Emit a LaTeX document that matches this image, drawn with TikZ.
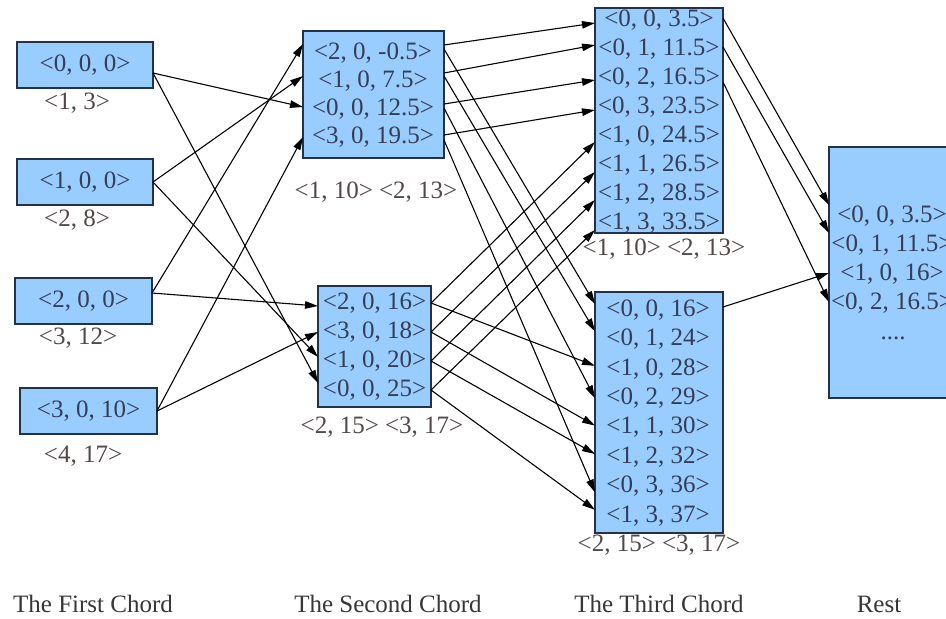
\documentclass[tikz,border=0pt]{standalone}
\usepackage{fontspec}
\setmainfont{Liberation Serif}
\usetikzlibrary{arrows.meta,calc}
\definecolor{boxfill}{RGB}{153,204,255}
\definecolor{boxline}{RGB}{35,50,72}
\definecolor{rowtext}{RGB}{52,62,84}
\definecolor{tagtext}{RGB}{82,72,72}
\definecolor{captext}{RGB}{55,55,55}
\tikzset{
  chordbox/.style={rectangle, draw=boxline, fill=boxfill, line width=1.2pt,
                   inner sep=0pt, outer sep=0pt},
  row/.style={text=rowtext, font=\fontsize{25}{28}\selectfont, inner sep=0pt},
  tag/.style={text=tagtext, font=\fontsize{25}{28}\selectfont, inner sep=0pt},
  caption/.style={text=captext, font=\fontsize{25}{28}\selectfont, inner sep=0pt},
  link/.style={draw=black, line width=1.1pt, -{Triangle[length=13pt,width=7.5pt]}},
}
\begin{document}
\begin{tikzpicture}[x=1pt,y=-1pt]
\useasboundingbox (0,0) rectangle (946,619);
\fill[white] (0,0) rectangle (946,619);
\clip (0,0) rectangle (946,619);

% ---- first chord: single-entry boxes ----
\node[chordbox, row, minimum width=136pt, minimum height=46pt] (A0) at (85,65)    {<0, 0, 0>};
\node[chordbox, row, minimum width=136pt, minimum height=46pt] (A1) at (85,182)   {<1, 0, 0>};
\node[chordbox, row, minimum width=137pt, minimum height=46pt] (A2) at (83.5,301) {<2, 0, 0>};
\node[chordbox, row, minimum width=137pt, minimum height=46pt] (A3) at (88.5,411) {<3, 0, 10>};
\node[tag] (tA0) at (77,103) {<1, 3>};
\node[tag] (tA1) at (77,220) {<2, 8>};
\node[tag] (tA2) at (78,338) {<3, 12>};
\node[tag] (tA3) at (83,456) {<4, 17>};

% ---- second chord ----
\node[chordbox, minimum width=141pt, minimum height=127pt] (B) at (373.5,94.5) {};
\node[row] (b0) at (373,53)  {<2, 0, -0.5>};
\node[row] (b1) at (373,81)  {<1, 0, 7.5>};
\node[row] (b2) at (373,109) {<0, 0, 12.5>};
\node[row] (b3) at (373,137) {<3, 0, 19.5>};
\node[tag] (tB) at (376,192) {<1, 10> <2, 13>};

\node[chordbox, minimum width=113pt, minimum height=121pt] (C) at (374.5,346.5) {};
\node[row] (c0) at (374.5,303) {<2, 0, 16>};
\node[row] (c1) at (374.5,332) {<3, 0, 18>};
\node[row] (c2) at (374.5,361) {<1, 0, 20>};
\node[row] (c3) at (374.5,390) {<0, 0, 25>};
\node[tag] (tC) at (382,427) {<2, 15> <3, 17>};

% ---- third chord ----
\node[chordbox, minimum width=128pt, minimum height=225pt] (D) at (659,120.5) {};
\node[row] (d0) at (659,20)  {<0, 0, 3.5>};
\node[row] (d1) at (659,49)  {<0, 1, 11.5>};
\node[row] (d2) at (659,78)  {<0, 2, 16.5>};
\node[row] (d3) at (659,107) {<0, 3, 23.5>};
\node[row] (d4) at (659,136) {<1, 0, 24.5>};
\node[row] (d5) at (659,165) {<1, 1, 26.5>};
\node[row] (d6) at (659,194) {<1, 2, 28.5>};
\node[row] (d7) at (659,223) {<1, 3, 33.5>};
\node[tag] (tD) at (664,249) {<1, 10> <2, 13>};

\node[chordbox, minimum width=128pt, minimum height=241pt] (E) at (659,412.5) {};
\node[row] (e0) at (658,310)   {<0, 0, 16>};
\node[row] (e1) at (658,339.4) {<0, 1, 24>};
\node[row] (e2) at (658,368.8) {<1, 0, 28>};
\node[row] (e3) at (658,398.2) {<0, 2, 29>};
\node[row] (e4) at (658,427.6) {<1, 1, 30>};
\node[row] (e5) at (658,457)   {<1, 2, 32>};
\node[row] (e6) at (658,486.4) {<0, 3, 36>};
\node[row] (e7) at (658,515.8) {<1, 3, 37>};
\node[tag] (tE) at (659,545) {<2, 15> <3, 17>};

% ---- remaining chords (box runs past the right edge) ----
\node[chordbox, minimum width=126pt, minimum height=251pt] (F) at (892,272.5) {};
\node[row] (f0) at (892,216) {<0, 0, 3.5>};
\node[row] (f1) at (892,245) {<0, 1, 11.5>};
\node[row] (f2) at (892,274) {<1, 0, 16>};
\node[row] (f3) at (892,303) {<0, 2, 16.5>};
\node[row] (f4) at (893,338) {....};

% ---- captions ----
\node[caption] (cap1) at (93,604)  {The First Chord};
\node[caption] (cap2) at (388,604) {The Second Chord};
\node[caption] (cap3) at (659,604) {The Third Chord};
\node[caption] (cap4) at (879,604) {Rest};

% ---- first -> second ----
\draw[link] ($(A0.east)+(0,8)$)  -- ($(B.west |- b2)+(0,-2)$);
\draw[link] ($(A0.east)+(0,8)$)  -- ($(C.west |- c3)+(0,-7)$);
\draw[link] (A1.east)            -- ($(B.west |- b1)+(0,-5)$);
\draw[link] (A1.east)            -- ($(C.west |- c2)+(0,-4)$);
\draw[link] ($(A2.east)+(0,-8)$) -- ($(B.west |- b0)+(0,-9)$);
\draw[link] ($(A2.east)+(0,-8)$) -- ($(C.west |- c0)+(0,3)$);
\draw[link] (A3.east)            -- (B.west |- b3);
\draw[link] (A3.east)            -- (C.west |- c1);

% ---- second -> third ----
\draw[link] ($(B.east |- b0)+(0,-8)$) -- ($(D.west |- d0)+(0,3)$);
\draw[link] ($(B.east |- b0)+(0,-4)$) -- ($(E.west |- e0)+(0,-6)$);
\draw[link] ($(B.east |- b1)+(0,-8)$) -- ($(D.west |- d1)+(0,-4)$);
\draw[link] ($(B.east |- b1)+(0,-5)$) -- ($(E.west |- e1)+(0,-8)$);
\draw[link] ($(B.east |- b2)+(0,-5)$) -- ($(D.west |- d2)+(0,2)$);
\draw[link] ($(B.east |- b2)+(0,-1)$) -- (E.west |- e3);
\draw[link] ($(B.east |- b3)+(0,-2)$) -- ($(D.west |- d3)+(0,3)$);
\draw[link] ($(B.east |- b3)+(0,3)$)  -- ($(E.west |- e6)+(0,6)$);
\draw[link] (C.east |- c0) -- ($(D.west |- d4)+(0,6)$);
\draw[link] (C.east |- c0) -- ($(E.west |- e2)+(0,-3)$);
\draw[link] (C.east |- c1) -- ($(D.west |- d5)+(0,7)$);
\draw[link] (C.east |- c1) -- ($(E.west |- e4)+(0,-2)$);
\draw[link] (C.east |- c2) -- ($(D.west |- d6)+(0,6)$);
\draw[link] (C.east |- c2) -- ($(E.west |- e5)+(0,-3)$);
\draw[link] (C.east |- c3) -- ($(D.west |- d7)+(0,7)$);
\draw[link] (C.east |- c3) -- ($(E.west |- e7)+(0,-6)$);

% ---- third -> rest ----
\draw[link] ($(D.east |- d0)+(0,-2)$) -- ($(F.west |- f0)+(0,-11)$);
\draw[link] ($(D.east |- d1)+(0,-2)$) -- ($(F.west |- f1)+(0,-12)$);
\draw[link] ($(D.east |- d2)+(0,4)$)  -- ($(F.west |- f3)+(0,-1)$);
\draw[link] ($(E.east |- e0)+(0,-3)$) -- ($(F.west |- f2)+(0,-1)$);
\end{tikzpicture}
\end{document}
